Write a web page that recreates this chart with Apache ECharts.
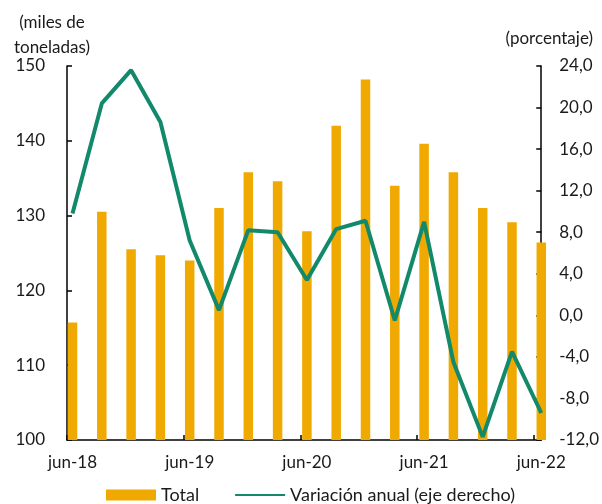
<!DOCTYPE html>
<html>
<head>
<meta charset="utf-8">
<script src="https://cdn.jsdelivr.net/npm/echarts@6/dist/echarts.min.js"></script>
<style>
html,body{margin:0;padding:0;background:#fff;}
#chart{width:602px;height:504px;}
</style>
</head>
<body>
<div id="chart"></div>
<script>
const categories = ['jun-18','sep-18','dic-18','mar-19','jun-19','sep-19','dic-19','mar-20','jun-20','sep-20','dic-20','mar-21','jun-21','sep-21','dic-21','mar-22','jun-22'];
const totalValues = [115.7, 130.5, 125.5, 124.7, 124.0, 131.0, 135.8, 134.6, 127.9, 142.0, 148.2, 134.0, 139.6, 135.8, 131.0, 129.1, 126.4];
const variationValues = [9.8, 20.4, 23.6, 18.6, 7.2, 0.5, 8.2, 8.0, 3.4, 8.3, 9.1, -0.5, 9.0, -4.5, -11.7, -3.5, -9.4];
const leftTicks = {min: 100, max: 150, interval: 10};
const rightTicks = {min: -12, max: 24, interval: 4};
const seriesNames = ['Total', 'Variación anual (eje derecho)'];
const leftTitle = '(miles de\ntoneladas)';
const rightTitle = '(porcentaje)';

const FONT = 'Lato';
const TXT = '#1a1a1a';
const chart = echarts.init(document.getElementById('chart'), null, {renderer: 'canvas'});
const axisLine = {show: true, onZero: false, lineStyle: {color: '#000', width: 1.5}};
const tick = {show: true, inside: true, length: 5, lineStyle: {color: '#000', width: 1.5}};
chart.setOption({
  animation: false,
  backgroundColor: '#fff',
  textStyle: {fontFamily: FONT},
  title: [
    {text: leftTitle, left: 47, top: 5, textAlign: 'center',
     textStyle: {fontFamily: FONT, fontSize: 17, fontWeight: 'normal', color: TXT, lineHeight: 25}},
    {text: rightTitle, right: 4, top: 21,
     textStyle: {fontFamily: FONT, fontSize: 17, fontWeight: 'normal', color: TXT, lineHeight: 25}}
  ],
  legend: {
    left: 101, top: 481,
    itemWidth: 50, itemHeight: 11, itemGap: 35,
    textStyle: {fontFamily: FONT, fontSize: 18, color: TXT},
    data: [
      {name: seriesNames[0], icon: 'rect'},
      {name: seriesNames[1], itemStyle: {color: 'transparent', borderColor: 'transparent', borderWidth: 0}}
    ]
  },
  grid: [
    {left: 67, right: 59, top: 66, bottom: 64},
    {left: 72.5, right: 60.7, top: 66, bottom: 64}
  ],
  xAxis: [
    {gridIndex: 0, type: 'value', min: 0, max: 16.25, interval: 4,
     axisLine: axisLine, axisTick: tick,
     axisLabel: {show: false}, splitLine: {show: false}},
    {gridIndex: 1, type: 'category', data: categories, boundaryGap: false,
     axisLine: {show: false}, axisTick: {show: false}, splitLine: {show: false},
     axisLabel: {interval: 3, fontFamily: FONT, fontSize: 17, color: TXT, margin: 14}}
  ],
  yAxis: [
    {gridIndex: 0, type: 'value', position: 'left', min: leftTicks.min, max: leftTicks.max, interval: leftTicks.interval,
     axisLine: axisLine, axisTick: tick,
     axisLabel: {fontFamily: FONT, fontSize: 17, color: TXT, margin: 22}, splitLine: {show: false}},
    {gridIndex: 0, type: 'value', position: 'right', min: rightTicks.min, max: rightTicks.max, interval: rightTicks.interval,
     axisLine: axisLine, axisTick: tick,
     axisLabel: {fontFamily: FONT, fontSize: 17, color: TXT, margin: 18,
       formatter: v => v.toFixed(1).replace('.', ',')}, splitLine: {show: false}},
    {gridIndex: 1, type: 'value', min: leftTicks.min, max: leftTicks.max, show: false},
    {gridIndex: 1, type: 'value', min: rightTicks.min, max: rightTicks.max, show: false}
  ],
  series: [
    {name: seriesNames[0], type: 'bar', xAxisIndex: 1, yAxisIndex: 2, data: totalValues,
     barWidth: 9.5, itemStyle: {color: '#F0A900'}},
    {name: seriesNames[1], type: 'line', xAxisIndex: 1, yAxisIndex: 3, data: variationValues,
     symbol: 'none', clip: false, z: 5, lineStyle: {color: '#12896A', width: 4}, itemStyle: {color: '#12896A'}}
  ]
});
</script>
</body>
</html>
